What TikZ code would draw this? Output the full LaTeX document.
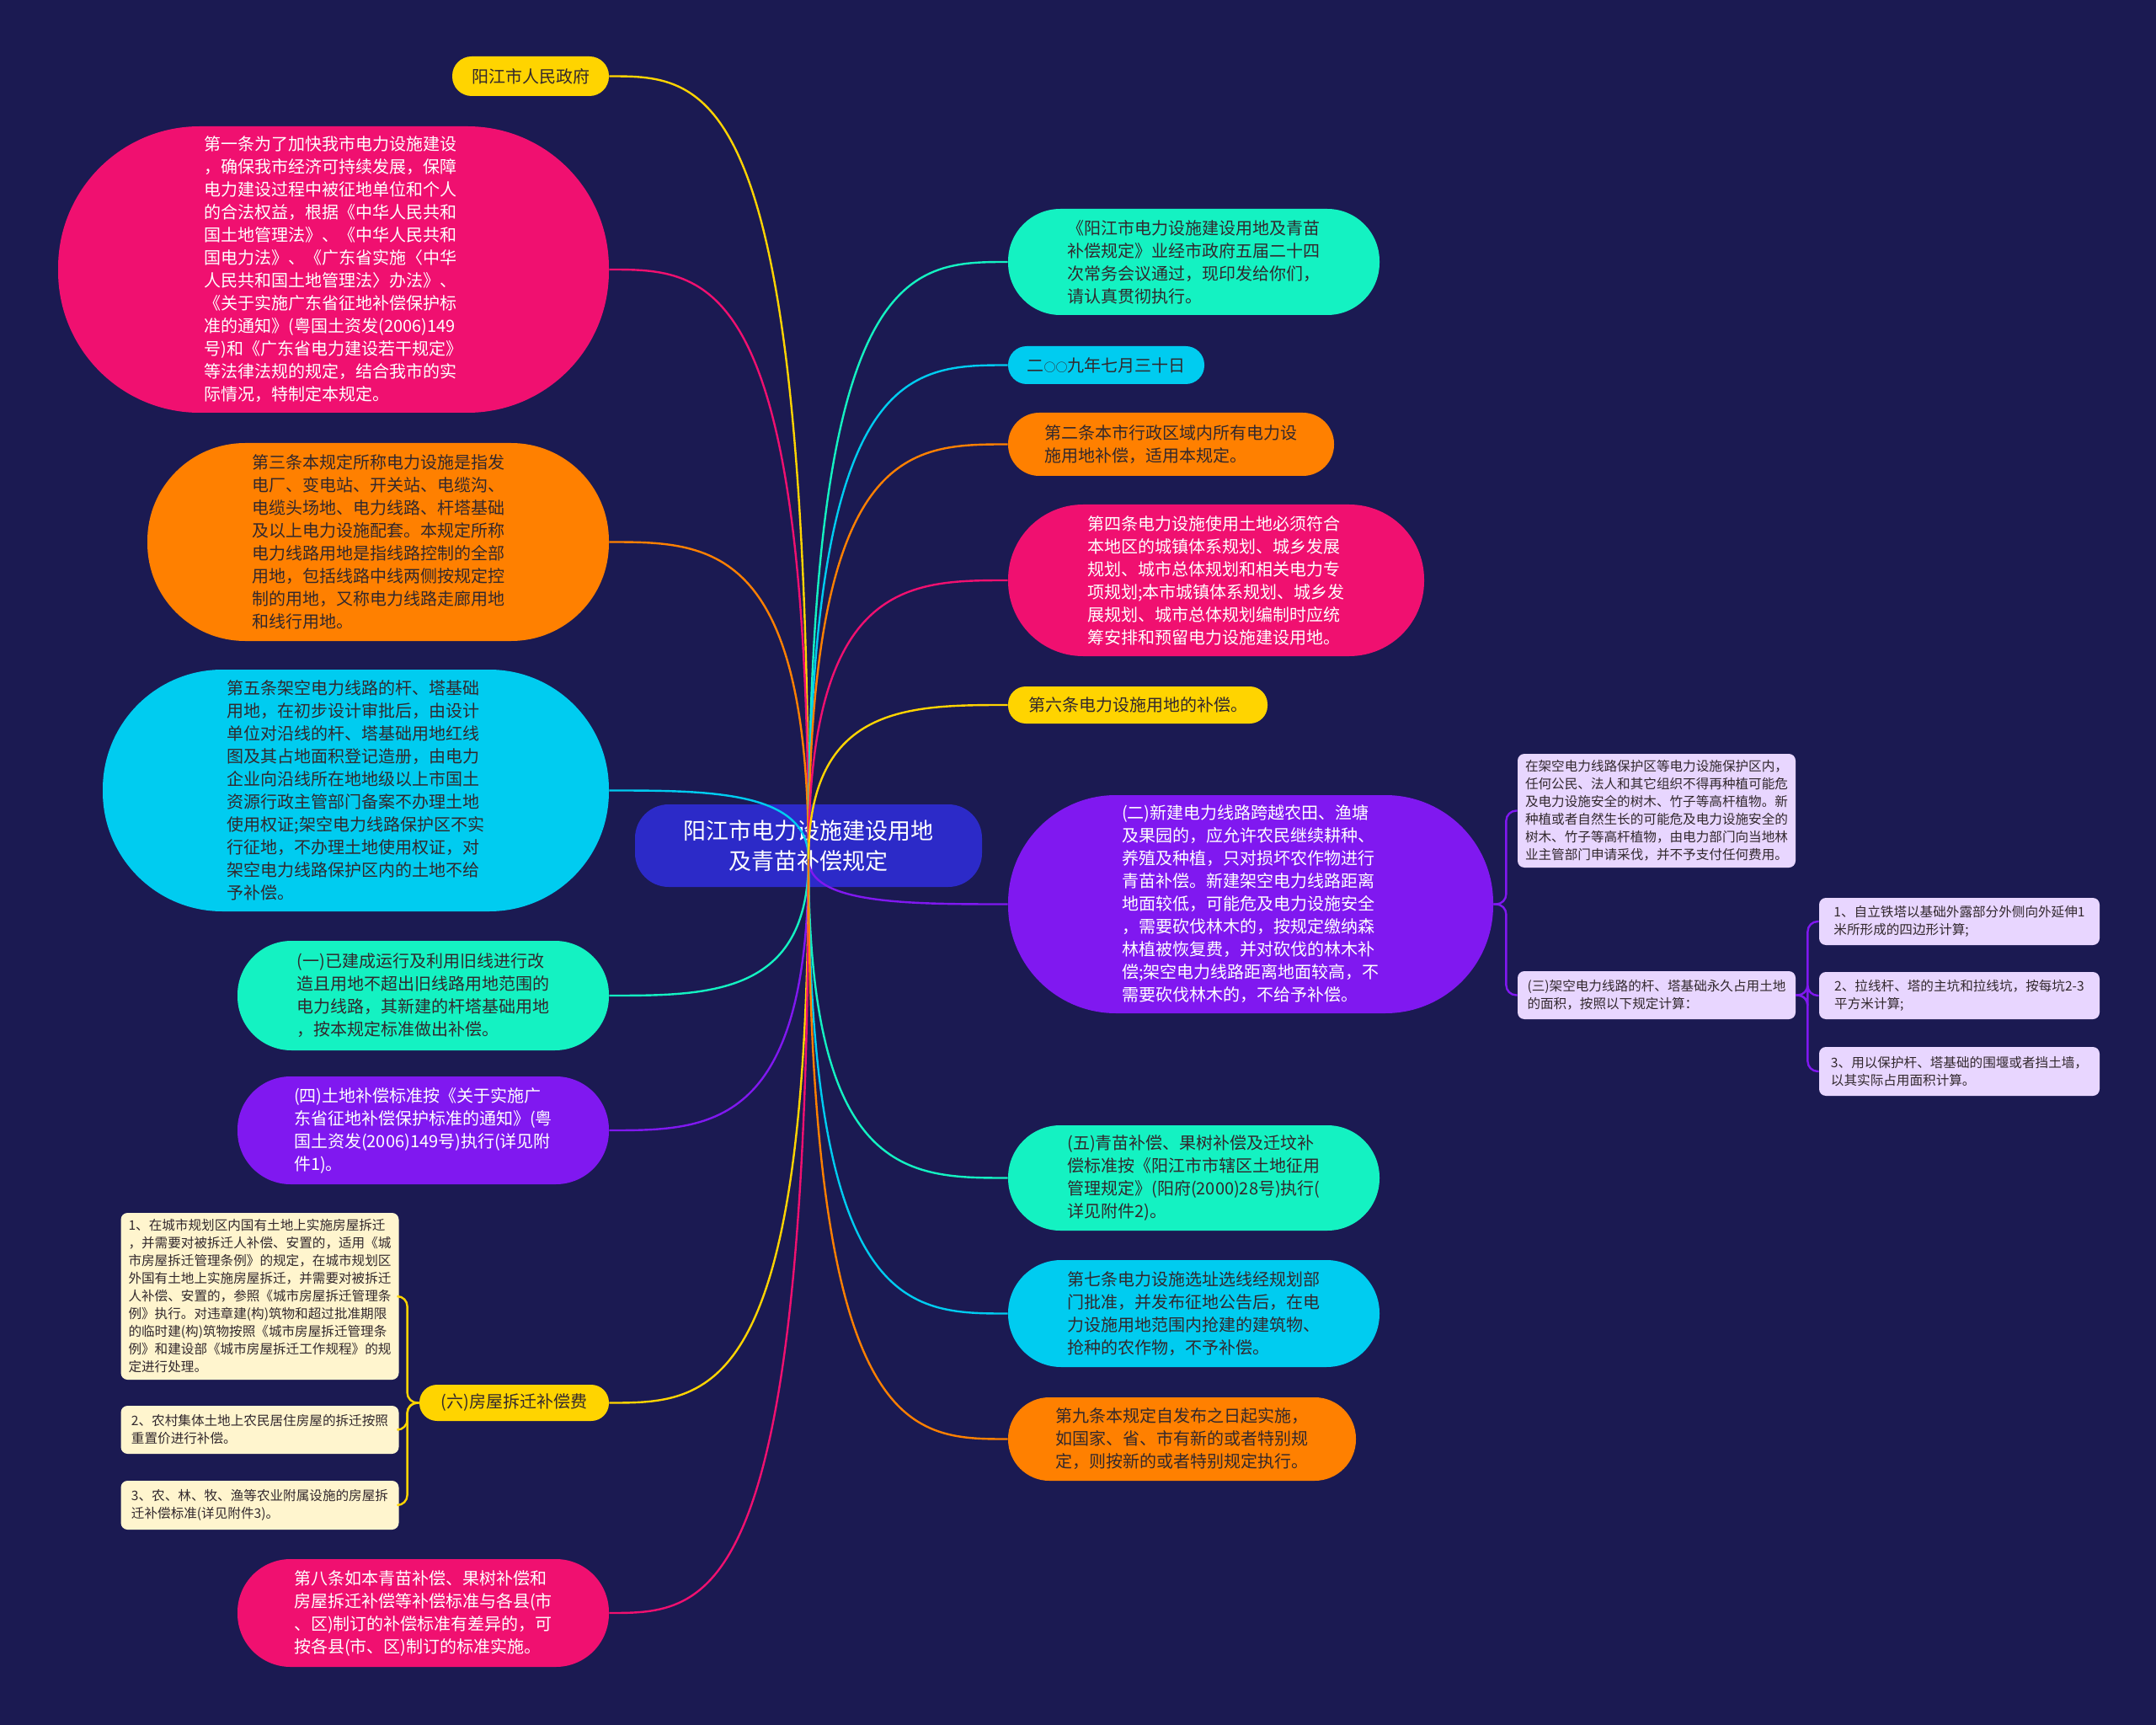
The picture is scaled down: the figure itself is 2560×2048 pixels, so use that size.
\documentclass[tikz,border=0pt]{standalone}
\usepackage{fontspec}
\setmainfont{Noto Sans CJK SC}
\usetikzlibrary{calc}
\definecolor{bgc}{RGB}{27,26,82}
\definecolor{centerc}{RGB}{44,42,200}
\definecolor{yellowc}{RGB}{255,212,0}
\definecolor{pinkc}{RGB}{240,16,112}
\definecolor{orangec}{RGB}{255,128,0}
\definecolor{cyanc}{RGB}{0,204,240}
\definecolor{greenc}{RGB}{20,242,194}
\definecolor{purplec}{RGB}{128,24,240}
\definecolor{lyellowc}{RGB}{255,245,206}
\definecolor{lavc}{RGB}{232,214,255}
\definecolor{darkt}{RGB}{50,40,45}
\tikzset{
  base/.style={inner sep=0pt, align=left},
  big/.style={base, font=\fontsize{10}{13.5}\selectfont},
  small/.style={base, font=\fontsize{7.8}{10.5}\selectfont, rounded corners=4pt, minimum width=165pt},
  conn/.style={line width=1.2pt},
}
\newcommand\myLconn[2]{\draw[conn,#1] (o) .. controls (o |- #2.east) and ($(o |- #2.east)!0.5!(#2.east)$) .. (#2.east);}
\newcommand\myRconn[2]{\draw[conn,#1] (o) .. controls (o |- #2.west) and ($(o |- #2.west)!0.5!(#2.west)$) .. (#2.west);}
\begin{document}
\begin{tikzpicture}[x=0.5pt,y=-0.5pt]
\fill[bgc] (0,0) rectangle (2560,2048);
\useasboundingbox (0,0) rectangle (2560,2048);

% center
\node[base, fill=centerc, text=white, font=\fontsize{13.5}{18}\selectfont, align=center, minimum width=206pt, minimum height=49pt, rounded corners=20pt] (C) at (960,1004) {阳江市电力设施建设用地\\及青苗补偿规定};
\coordinate (o) at (960,1020);

% left nodes
\node[big, fill=yellowc, text=darkt, minimum width=93pt, minimum height=23.5pt, rounded corners=11.5pt] (L0) at (630,90.5) {阳江市人民政府};
\node[big, fill=pinkc, text=white, minimum width=327pt, minimum height=170pt, rounded corners=84pt] (L1) at (396,320) {第一条为了加快我市电力设施建设\\，确保我市经济可持续发展，保障\\电力建设过程中被征地单位和个人\\的合法权益，根据《中华人民共和\\国土地管理法》、《中华人民共和\\国电力法》、《广东省实施〈中华\\人民共和国土地管理法〉办法》、\\《关于实施广东省征地补偿保护标\\准的通知》(粤国土资发(2006)149\\号)和《广东省电力建设若干规定》\\等法律法规的规定，结合我市的实\\际情况，特制定本规定。};
\node[big, fill=orangec, text=darkt, minimum width=274pt, minimum height=117.5pt, rounded corners=58pt] (L2) at (449,643.5) {第三条本规定所称电力设施是指发\\电厂、变电站、开关站、电缆沟、\\电缆头场地、电力线路、杆塔基础\\及以上电力设施配套。本规定所称\\电力线路用地是指线路控制的全部\\用地，包括线路中线两侧按规定控\\制的用地，又称电力线路走廊用地\\和线行用地。};
\node[big, fill=cyanc, text=darkt, minimum width=300.5pt, minimum height=143.5pt, rounded corners=71pt] (L3) at (422.5,938.5) {第五条架空电力线路的杆、塔基础\\用地，在初步设计审批后，由设计\\单位对沿线的杆、塔基础用地红线\\图及其占地面积登记造册，由电力\\企业向沿线所在地地级以上市国土\\资源行政主管部门备案不办理土地\\使用权证;架空电力线路保护区不实\\行征地，不办理土地使用权证，对\\架空电力线路保护区内的土地不给\\予补偿。};
\node[big, fill=greenc, text=darkt, minimum width=220.5pt, minimum height=65pt, rounded corners=32pt] (L4) at (502.5,1182) {(一)已建成运行及利用旧线进行改\\造且用地不超出旧线路用地范围的\\电力线路，其新建的杆塔基础用地\\，按本规定标准做出补偿。};
\node[big, fill=purplec, text=white, minimum width=220.5pt, minimum height=64pt, rounded corners=31.5pt] (L5) at (502.5,1342) {(四)土地补偿标准按《关于实施广\\东省征地补偿保护标准的通知》(粤\\国土资发(2006)149号)执行(详见附\\件1)。};
\node[big, fill=yellowc, text=darkt, minimum width=112.5pt, minimum height=21.5pt, rounded corners=10.5pt] (L6) at (610.5,1665.5) {(六)房屋拆迁补偿费};
\node[big, fill=pinkc, text=white, minimum width=220.5pt, minimum height=64pt, rounded corners=31.5pt] (L7) at (502.5,1915) {第八条如本青苗补偿、果树补偿和\\房屋拆迁补偿等补偿标准与各县(市\\、区)制订的补偿标准有差异的，可\\按各县(市、区)制订的标准实施。};

% left children
\node[small, fill=lyellowc, text=darkt, minimum height=99pt] (Y1) at (308.5,1539) {1、在城市规划区内国有土地上实施房屋拆迁\\，并需要对被拆迁人补偿、安置的，适用《城\\市房屋拆迁管理条例》的规定，在城市规划区\\外国有土地上实施房屋拆迁，并需要对被拆迁\\人补偿、安置的，参照《城市房屋拆迁管理条\\例》执行。对违章建(构)筑物和超过批准期限\\的临时建(构)筑物按照《城市房屋拆迁管理条\\例》和建设部《城市房屋拆迁工作规程》的规\\定进行处理。};
\node[small, fill=lyellowc, text=darkt, minimum height=28.5pt] (Y2) at (308.5,1697.5) {2、农村集体土地上农民居住房屋的拆迁按照\\重置价进行补偿。};
\node[small, fill=lyellowc, text=darkt, minimum height=29pt] (Y3) at (308.5,1787) {3、农、林、牧、渔等农业附属设施的房屋拆\\迁补偿标准(详见附件3)。};

% right nodes
\node[big, fill=greenc, text=darkt, minimum width=220.5pt, minimum height=63pt, rounded corners=31pt] (R0) at (1417.5,311) {《阳江市电力设施建设用地及青苗\\补偿规定》业经市政府五届二十四\\次常务会议通过，现印发给你们，\\请认真贯彻执行。};
\node[big, fill=cyanc, text=darkt, minimum width=116.5pt, minimum height=22.5pt, rounded corners=11pt] (R1) at (1313.5,433.5) {二{\fontsize{7}{7}\selectfont ○○}九年七月三十日};
\node[big, fill=orangec, text=darkt, minimum width=193.5pt, minimum height=37.5pt, rounded corners=18.5pt] (R2) at (1390.5,527.5) {第二条本市行政区域内所有电力设\\施用地补偿，适用本规定。};
\node[big, fill=pinkc, text=white, minimum width=247pt, minimum height=90pt, rounded corners=44.5pt] (R3) at (1444,689) {第四条电力设施使用土地必须符合\\本地区的城镇体系规划、城乡发展\\规划、城市总体规划和相关电力专\\项规划;本市城镇体系规划、城乡发\\展规划、城市总体规划编制时应统\\筹安排和预留电力设施建设用地。};
\node[big, fill=yellowc, text=darkt, minimum width=154pt, minimum height=22pt, rounded corners=10.5pt] (R4) at (1351,837) {第六条电力设施用地的补偿。};
\node[big, fill=purplec, text=white, minimum width=288pt, minimum height=129.5pt, rounded corners=64pt] (R5) at (1485,1073.5) {(二)新建电力线路跨越农田、渔塘\\及果园的，应允许农民继续耕种、\\养殖及种植，只对损坏农作物进行\\青苗补偿。新建架空电力线路距离\\地面较低，可能危及电力设施安全\\，需要砍伐林木的，按规定缴纳森\\林植被恢复费，并对砍伐的林木补\\偿;架空电力线路距离地面较高，不\\需要砍伐林木的，不给予补偿。};
\node[big, fill=greenc, text=darkt, minimum width=220.5pt, minimum height=62.5pt, rounded corners=31pt] (R6) at (1417.5,1398.5) {(五)青苗补偿、果树补偿及迁坟补\\偿标准按《阳江市市辖区土地征用\\管理规定》(阳府(2000)28号)执行(\\详见附件2)。};
\node[big, fill=cyanc, text=darkt, minimum width=220.5pt, minimum height=63.5pt, rounded corners=31.5pt] (R7) at (1417.5,1559.5) {第七条电力设施选址选线经规划部\\门批准，并发布征地公告后，在电\\力设施用地范围内抢建的建筑物、\\抢种的农作物，不予补偿。};
\node[big, fill=orangec, text=darkt, minimum width=206.5pt, minimum height=49.5pt, rounded corners=24.5pt] (R8) at (1403.5,1708.5) {第九条本规定自发布之日起实施，\\如国家、省、市有新的或者特别规\\定，则按新的或者特别规定执行。};

% right children
\node[small, fill=lavc, text=darkt, minimum height=67.5pt] (P1) at (1967,962.5) {在架空电力线路保护区等电力设施保护区内，\\任何公民、法人和其它组织不得再种植可能危\\及电力设施安全的树木、竹子等高杆植物。新\\种植或者自然生长的可能危及电力设施安全的\\树木、竹子等高杆植物，由电力部门向当地林\\业主管部门申请采伐，并不予支付任何费用。};
\node[small, fill=lavc, text=darkt, minimum height=28.5pt] (P2) at (1967,1181.5) {(三)架空电力线路的杆、塔基础永久占用土地\\的面积，按照以下规定计算：};
\node[small, fill=lavc, text=darkt, minimum width=166.5pt, minimum height=28pt] (Q1) at (2326.5,1094) {1、自立铁塔以基础外露部分外侧向外延伸1\\米所形成的四边形计算;};
\node[small, fill=lavc, text=darkt, minimum width=166.5pt, minimum height=28pt] (Q2) at (2326.5,1182) {2、拉线杆、塔的主坑和拉线坑，按每坑2-3\\平方米计算;};
\node[small, fill=lavc, text=darkt, minimum width=166.5pt, minimum height=29pt] (Q3) at (2326.5,1272) {3、用以保护杆、塔基础的围堰或者挡土墙，\\以其实际占用面积计算。};

% main connectors
\myLconn{yellowc}{L0}
\myLconn{pinkc}{L1}
\myLconn{orangec}{L2}
\myLconn{cyanc}{L3}
\myLconn{greenc}{L4}
\myLconn{purplec}{L5}
\myLconn{yellowc}{L6}
\myLconn{pinkc}{L7}
\myRconn{greenc}{R0}
\myRconn{cyanc}{R1}
\myRconn{orangec}{R2}
\myRconn{pinkc}{R3}
\myRconn{yellowc}{R4}
\myRconn{purplec}{R5}
\myRconn{greenc}{R6}
\myRconn{cyanc}{R7}
\myRconn{orangec}{R8}

% child connectors
\draw[conn, yellowc, rounded corners=6pt] (L6.west) -- ++(-14,0) |- (Y1.east);
\draw[conn, yellowc, rounded corners=6pt] (L6.west) -- ++(-14,0) |- (Y2.east);
\draw[conn, yellowc, rounded corners=6pt] (L6.west) -- ++(-14,0) |- (Y3.east);
\draw[conn, purplec, rounded corners=6pt] (R5.east) -- ++(15,0) |- (P1.west);
\draw[conn, purplec, rounded corners=6pt] (R5.east) -- ++(15,0) |- (P2.west);
\draw[conn, purplec, rounded corners=6pt] (P2.east) -- ++(14,0) |- (Q1.west);
\draw[conn, purplec, rounded corners=6pt] (P2.east) -- ++(14,0) |- (Q2.west);
\draw[conn, purplec, rounded corners=6pt] (P2.east) -- ++(14,0) |- (Q3.west);
\end{tikzpicture}
\end{document}
